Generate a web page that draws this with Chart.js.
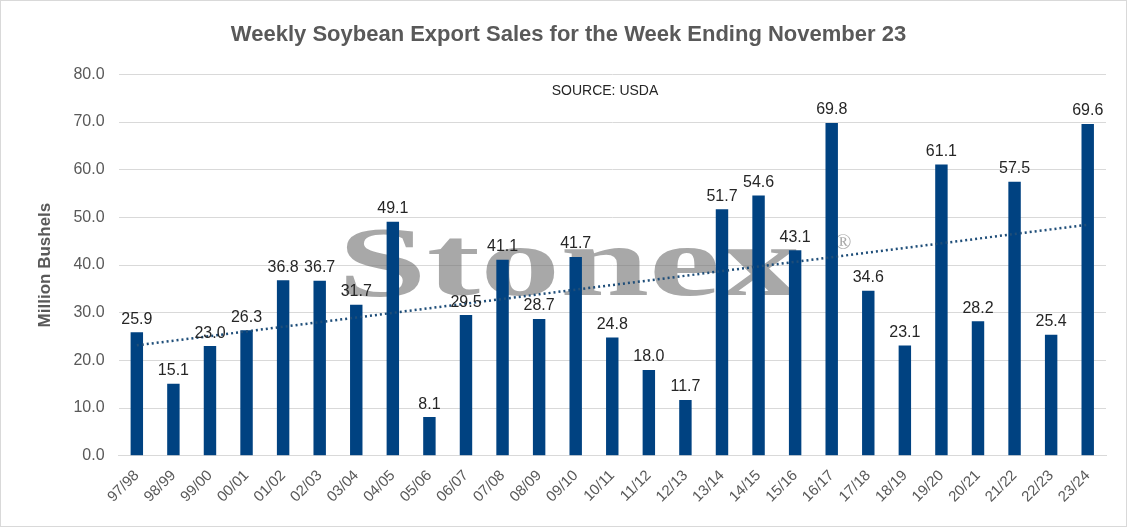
<!DOCTYPE html>
<html><head><meta charset="utf-8">
<script src="https://cdn.jsdelivr.net/npm/chart.js@4"></script>
<style>
html,body{margin:0;padding:0;background:#fff;}
#wrap{position:absolute;left:0;top:0;width:1125px;height:525px;border:1px solid #d9d9d9;}
</style></head><body>
<div id="wrap"><canvas id="c"></canvas></div>
<script>
const seasons=["97/98","98/99","99/00","00/01","01/02","02/03","03/04","04/05","05/06","06/07","07/08","08/09","09/10","10/11","11/12","12/13","13/14","14/15","15/16","16/17","17/18","18/19","19/20","20/21","21/22","22/23","23/24"];
const sales=[25.9,15.1,23.0,26.3,36.8,36.7,31.7,49.1,8.1,29.5,41.1,28.7,41.7,24.8,18.0,11.7,51.7,54.6,43.1,69.8,34.6,23.1,61.1,28.2,57.5,25.4,69.6];

// linear trendline (least squares, like Excel)
const n=sales.length;
let sx=0,sy=0,sxy=0,sxx=0;
sales.forEach((v,i)=>{sx+=i;sy+=v;sxy+=i*v;sxx+=i*i;});
const slope=(n*sxy-sx*sy)/(n*sxx-sx*sx), icpt=(sy-slope*sx)/n;
const trend=sales.map((v,i)=>icpt+slope*i);

const extras={
  id:'extras',
  beforeDatasetsDraw(ch){
    const {ctx}=ch;
    ctx.save();
    ctx.fillStyle='rgba(110,110,110,0.6)';
    ctx.textAlign='center';ctx.textBaseline='middle';
    ctx.save();
    ctx.translate(568,268);ctx.scale(1.6,1);
    ctx.font='bold 100px "Liberation Serif", serif';
    ctx.fillText('Stonex',0,0);
    ctx.restore();
    ctx.font='22px "Liberation Serif", serif';
    ctx.fillText('®',842,242);
    ctx.restore();
  },
  afterDatasetsDraw(ch){
    const {ctx}=ch;
    const meta=ch.getDatasetMeta(0);
    ctx.save();
    ctx.fillStyle='#262626';
    ctx.font='16px "Liberation Sans", Arial, sans-serif';
    ctx.textAlign='center';ctx.textBaseline='bottom';
    meta.data.forEach((b,i)=>ctx.fillText(sales[i].toFixed(1),b.x,b.y-5));
    ctx.font='14px "Liberation Sans", Arial, sans-serif';
    ctx.textBaseline='middle';
    ctx.fillText('SOURCE: USDA',604,90);
    ctx.restore();
  }
};

new Chart(document.getElementById('c'),{
  type:'bar',
  data:{labels:seasons,datasets:[
    {data:sales,backgroundColor:'#004281',barPercentage:0.34,categoryPercentage:1,order:2},
    {type:'line',data:trend,borderColor:'#1f4e79',borderWidth:2.5,borderDash:[2,3],pointRadius:0,fill:false,order:1}
  ]},
  options:{
    responsive:true,maintainAspectRatio:false,animation:false,
    layout:{padding:{left:30,right:20,top:5,bottom:17}},
    plugins:{
      legend:{display:false},tooltip:{enabled:false},
      title:{display:true,text:'Weekly Soybean Export Sales for the Week Ending November 23',
        color:'#595959',font:{family:'"Liberation Sans", Arial, sans-serif',size:22,weight:'bold'},padding:{top:16,bottom:26}}
    },
    scales:{
      y:{min:0,max:80,ticks:{stepSize:10,color:'#595959',font:{family:'"Liberation Sans", Arial',size:16},callback:v=>v.toFixed(1),padding:14},
        grid:{color:'#d9d9d9',drawTicks:false},border:{display:false},
        title:{display:true,text:'Million Bushels',color:'#595959',font:{family:'"Liberation Sans", Arial',size:17,weight:'bold'},padding:{bottom:4}}},
      x:{ticks:{color:'#595959',font:{family:'"Liberation Sans", Arial',size:15},maxRotation:45,minRotation:45,autoSkip:false},
        grid:{display:false},border:{color:'#d9d9d9'}}
    }
  },
  plugins:[extras]
});
</script></body></html>
